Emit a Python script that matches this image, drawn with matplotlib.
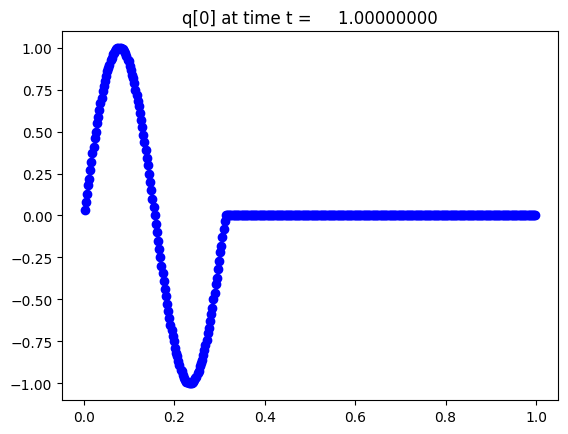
import numpy as np
import matplotlib
matplotlib.use("Agg")
import matplotlib.pyplot as plt

# q[0] on a 400-cell grid over [0, 1], cell centres
n_cells = 400
x = (np.arange(n_cells) + 0.5) / n_cells

# wave part (first 125 cells)
q_wave = [
    0.03, 0.08, 0.13, 0.18, 0.22, 0.27, 0.32, 0.37, 0.41, 0.46,
    0.50, 0.55, 0.59, 0.63, 0.67, 0.70, 0.74, 0.77, 0.80, 0.83,
    0.86, 0.88, 0.90, 0.93, 0.94, 0.96, 0.97, 0.98, 0.99, 1.00,
    1.00, 1.00, 1.00, 0.99, 0.99, 0.98, 0.97, 0.95, 0.93, 0.92,
    0.89, 0.87, 0.84, 0.82, 0.79, 0.75, 0.72, 0.68, 0.65, 0.61,
    0.57, 0.53, 0.48, 0.44, 0.39, 0.34, 0.30, 0.25, 0.20, 0.15,
    0.10, 0.05, 0.00,
    -0.05, -0.10, -0.15, -0.20, -0.25, -0.30, -0.34, -0.39, -0.44, -0.48,
    -0.53, -0.57, -0.61, -0.65, -0.68, -0.72, -0.75, -0.79, -0.82, -0.84,
    -0.87, -0.89, -0.92, -0.93, -0.95, -0.97, -0.98, -0.99, -0.99, -1.00,
    -1.00, -1.00, -1.00, -0.99, -0.98, -0.97, -0.96, -0.94, -0.93, -0.90,
    -0.88, -0.86, -0.83, -0.80, -0.77, -0.74, -0.70, -0.67, -0.63, -0.59,
    -0.55, -0.50, -0.46, -0.41, -0.37, -0.32, -0.27, -0.22, -0.18, -0.13,
    -0.08, -0.03,
]
# rest of the domain is flat at zero
q_flat = [0.0] * (n_cells - len(q_wave))
q = np.array(q_wave + q_flat)

t = 1.0

fig = plt.figure(figsize=(5.68, 4.35), dpi=100)
ax = fig.add_subplot(111)
fig.subplots_adjust(left=0.1092, right=0.9824, bottom=0.0782, top=0.9264)

ax.plot(x, q, 'bo')
ax.set_title('q[0] at time t = %14.8f' % t)

plt.savefig('out.png', dpi=100)
